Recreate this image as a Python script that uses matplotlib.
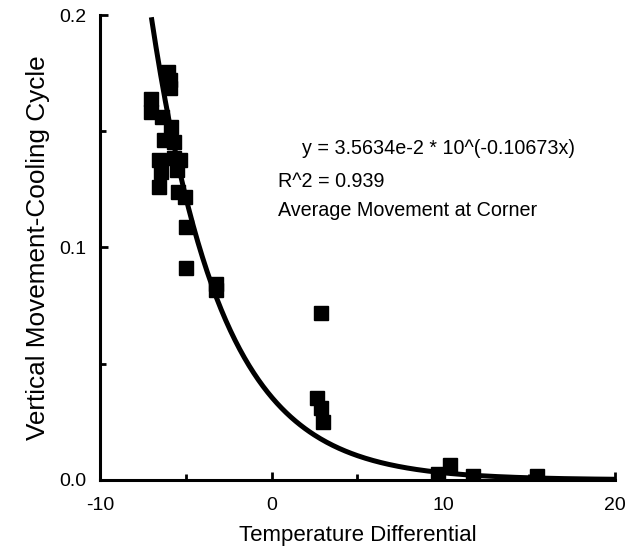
import numpy as np
import matplotlib
matplotlib.use("Agg")
import matplotlib.pyplot as plt
from matplotlib.ticker import FixedLocator

plt.rcParams['font.family'] = ['Liberation Sans', 'DejaVu Sans']
plt.rcParams['axes.unicode_minus'] = False

# Measured movement vs. temperature differential
temp_diff = [-6.06, -5.89, -5.89, -7.0, -7.0, -6.36, -5.83, -6.24, -5.66,
             -6.53, -5.66, -5.36, -6.41, -5.48, -6.53, -5.42, -5.07, -4.96,
             -5.01, -3.21, -3.21, 2.86, 2.62, 2.86, 2.97, 10.38, 9.68,
             11.72, 15.45]
movement = [0.1755, 0.172, 0.1686, 0.1639, 0.1583, 0.1561, 0.1518, 0.1462,
            0.1454, 0.1376, 0.1385, 0.1376, 0.1325, 0.1333, 0.126, 0.1239,
            0.1217, 0.1088, 0.0912, 0.0843, 0.0817, 0.0718, 0.0353, 0.031,
            0.0249, 0.0065, 0.0026, 0.0017, 0.0017]

# Exponential fit parameters
fit_a = 3.5634e-2
fit_b = -0.10673
fit_r2 = 0.939

fig = plt.figure(figsize=(6.4, 5.58), dpi=100)
ax = fig.add_axes([0.156, 0.14, 0.805, 0.833])

xf = np.linspace(-7.0, 20.0, 300)
yf = fit_a * 10 ** (fit_b * xf)
ax.plot(xf, yf, color='black', lw=3.6, solid_capstyle='butt', zorder=3)
ax.plot(temp_diff, movement, 's', color='black', ms=10.5, zorder=4)

ax.set_xlim(-10, 20)
ax.set_ylim(0, 0.2)
ax.xaxis.set_major_locator(FixedLocator([-10, 0, 10, 20]))
ax.xaxis.set_minor_locator(FixedLocator([-5, 5, 15]))
ax.yaxis.set_major_locator(FixedLocator([0.0, 0.1, 0.2]))
ax.yaxis.set_minor_locator(FixedLocator([0.05, 0.15]))
ax.set_yticklabels(['0.0', '0.1', '0.2'])

for s in ['top', 'right']:
    ax.spines[s].set_visible(False)
for s in ['left', 'bottom']:
    ax.spines[s].set_linewidth(2.2)

ax.tick_params(which='major', direction='in', length=6, width=2, labelsize=14)
ax.tick_params(axis='y', which='major', pad=10)
ax.tick_params(axis='x', which='major', pad=12)
ax.tick_params(which='minor', direction='in', length=4, width=2)

ax.set_xlabel('Temperature Differential', fontsize=16, labelpad=8)
ax.set_ylabel('Vertical Movement-Cooling Cycle', fontsize=18.8, labelpad=6)

ax.text(0.393, 0.712, 'y = 3.5634e-2 * 10^(-0.10673x)', transform=ax.transAxes,
        fontsize=14.2, va='center', ha='left')
ax.text(0.345, 0.643, f'R^2 = {fit_r2}', transform=ax.transAxes,
        fontsize=14.2, va='center', ha='left')
ax.text(0.345, 0.580, 'Average Movement at Corner', transform=ax.transAxes,
        fontsize=14.2, va='center', ha='left')

fig.savefig('out.png', dpi=100)
